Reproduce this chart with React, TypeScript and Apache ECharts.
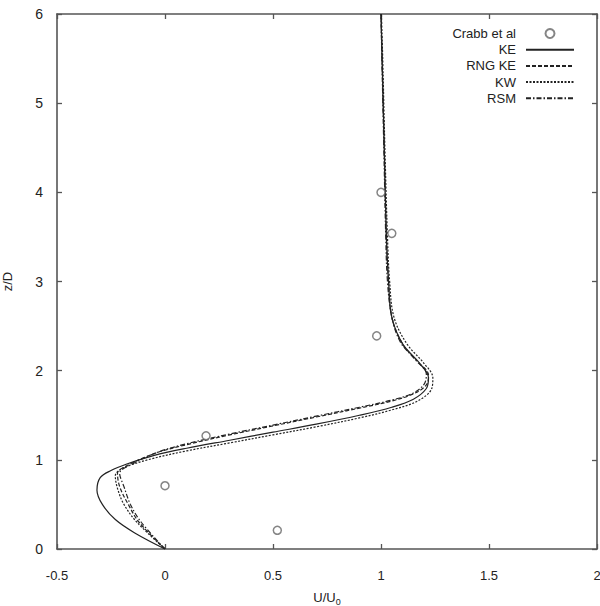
import React, { useEffect, useRef } from "react";
import * as echarts from "echarts";

const xTicks = [-0.5, 0, 0.5, 1, 1.5, 2];
const yTicks = [0, 1, 2, 3, 4, 5, 6];

const crabb: number[][] = [
  [0.52, 0.21],
  [0.0, 0.71],
  [0.19, 1.27],
  [0.98, 2.39],
  [1.05, 3.54],
  [1.0, 4.0],
];

const ke: number[][] = [
  [0, 0], [-0.14, 0.18], [-0.23, 0.33], [-0.29, 0.5], [-0.315, 0.66], [-0.3, 0.8],
  [-0.25, 0.88], [-0.18, 0.95], [-0.05, 1.05], [0.1, 1.13], [0.3, 1.22], [0.5, 1.31],
  [0.7, 1.4], [0.9, 1.5], [1.05, 1.59], [1.15, 1.68], [1.21, 1.8], [1.22, 1.92],
  [1.18, 2.08], [1.1, 2.3], [1.05, 2.6], [1.035, 3.0], [1.025, 3.5], [1.015, 4.5],
  [1.005, 5.5], [1.0, 6],
];

const rngKe: number[][] = [
  [0, 0], [-0.12, 0.3], [-0.17, 0.5], [-0.21, 0.7], [-0.22, 0.85], [-0.18, 0.93],
  [-0.05, 1.07], [0.1, 1.17], [0.3, 1.28], [0.5, 1.38], [0.7, 1.48], [0.9, 1.58],
  [1.05, 1.66], [1.15, 1.74], [1.21, 1.84], [1.22, 1.95], [1.17, 2.1], [1.1, 2.3],
  [1.05, 2.6], [1.035, 3.0], [1.025, 3.5], [1.015, 4.5], [1.005, 5.5], [1.0, 6],
];

const kw: number[][] = [
  [0, 0], [-0.13, 0.3], [-0.19, 0.5], [-0.22, 0.68], [-0.23, 0.82], [-0.2, 0.9],
  [-0.08, 1.0], [0.1, 1.1], [0.3, 1.19], [0.5, 1.28], [0.7, 1.37], [0.9, 1.47],
  [1.05, 1.56], [1.17, 1.66], [1.235, 1.8], [1.24, 1.92], [1.2, 2.08], [1.12, 2.3],
  [1.06, 2.6], [1.04, 3.0], [1.03, 3.5], [1.018, 4.5], [1.008, 5.5], [1.002, 6],
];

const rsm: number[][] = [
  [0, 0], [-0.11, 0.3], [-0.16, 0.5], [-0.19, 0.7], [-0.21, 0.85], [-0.17, 0.93],
  [-0.04, 1.08], [0.1, 1.18], [0.3, 1.29], [0.5, 1.39], [0.7, 1.49], [0.9, 1.59],
  [1.05, 1.67], [1.15, 1.75], [1.2, 1.85], [1.21, 1.96], [1.16, 2.12], [1.09, 2.32],
  [1.05, 2.6], [1.03, 3.0], [1.022, 3.5], [1.013, 4.5], [1.004, 5.5], [1.0, 6],
];

const legendNames = ["Crabb et al", "KE", "RNG KE", "KW", "RSM"];

const FONT = "Liberation Sans, Arial, sans-serif";
const AXIS_COLOR = "#555";
const LINE_COLOR = "#222";

export default function App() {
  const ref = useRef<HTMLDivElement>(null);
  useEffect(() => {
    if (!ref.current) return;
    const chart = echarts.init(ref.current, null, { renderer: "svg" });
    const axisCommon = {
      axisLine: { show: true, onZero: false, lineStyle: { color: AXIS_COLOR, width: 1.6 } },
      axisTick: { show: true, inside: true, length: 5, lineStyle: { color: AXIS_COLOR, width: 1.3 } },
      splitLine: { show: false },
    };
    const lineSeries = (name: string, data: number[][], type: any) => ({
      name,
      type: "line",
      data,
      smooth: 0.35,
      showSymbol: false,
      symbol: "none",
      lineStyle: { color: LINE_COLOR, width: 1.2, type },
      itemStyle: { color: LINE_COLOR },
      z: 2,
    });
    chart.setOption({
      animation: false,
      backgroundColor: "#ffffff",
      textStyle: { fontFamily: FONT },
      grid: {
        left: 57,
        right: 3,
        top: 14,
        bottom: 57,
        containLabel: false,
        outerBoundsMode: "none",
      },
      legend: {
        orient: "vertical",
        right: 20,
        top: 22,
        align: "right",
        itemWidth: 48,
        itemHeight: 9,
        itemGap: 3.2,
        textStyle: { fontFamily: FONT, fontSize: 13, color: "#222", padding: [0, 5, 0, 0] },
        data: legendNames.map((n, i) =>
          i === 0 ? { name: n } : { name: n, itemStyle: { opacity: 0 } }
        ),
      },
      xAxis: [
        {
          type: "value",
          min: -0.5,
          max: 2,
          interval: 0.5,
          name: "U/U{sub|0}",
          nameLocation: "middle",
          nameGap: 40,
          nameTextStyle: {
            fontFamily: FONT,
            fontSize: 13,
            color: "#222",
            rich: { sub: { fontSize: 9, verticalAlign: "bottom", padding: [8, 0, 0, 0], fontFamily: FONT, color: "#222" } },
          },
          axisLabel: {
            fontFamily: FONT,
            fontSize: 13,
            color: "#222",
            margin: 20,
            formatter: (v: number) => String(v),
          },
          ...axisCommon,
        },
        {
          type: "value",
          position: "top",
          min: -0.5,
          max: 2,
          interval: 0.5,
          axisLabel: { show: false },
          ...axisCommon,
        },
      ],
      yAxis: [
        {
          type: "value",
          min: 0,
          max: 6,
          interval: 1,
          name: "z/D",
          nameLocation: "middle",
          nameGap: 43,
          nameTextStyle: { fontFamily: FONT, fontSize: 13, color: "#222" },
          axisLabel: { fontFamily: FONT, fontSize: 14, color: "#222", margin: 14 },
          ...axisCommon,
        },
        {
          type: "value",
          position: "right",
          min: 0,
          max: 6,
          interval: 1,
          axisLabel: { show: false },
          ...axisCommon,
        },
      ],
      series: [
        {
          name: "Crabb et al",
          type: "scatter",
          data: crabb,
          symbol: "circle",
          symbolSize: 8,
          itemStyle: { color: "#ffffff", borderColor: "#666", borderWidth: 1.5 },
          z: 3,
        },
        lineSeries("KE", ke, "solid"),
        lineSeries("RNG KE", rngKe, [4, 2]),
        lineSeries("KW", kw, [2, 1.5]),
        lineSeries("RSM", rsm, [5, 2, 1.5, 2]),
      ],
    });
    return () => chart.dispose();
  }, []);
  return (
    <div
      ref={ref}
      style={{ position: "fixed", left: 0, top: 0, width: 600, height: 606 }}
    />
  );
}
